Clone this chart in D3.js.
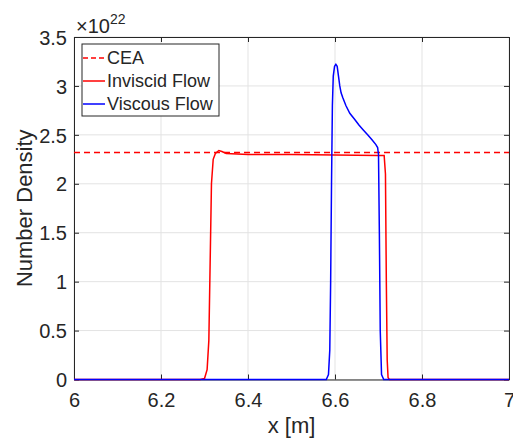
<!DOCTYPE html>
<html>
<head>
<meta charset="utf-8">
<script src="https://cdn.jsdelivr.net/npm/d3@7"></script>
<style>
  body { margin: 0; background: #fff; }
  text { font-family: "Liberation Sans", Arial, sans-serif; fill: #262626; }
</style>
</head>
<body>
<svg width="513" height="443"></svg>
<script>
"use strict";
// values in units of 1e22
const ceaLevel = 2.32;
const invX = [6.0, 6.29, 6.300, 6.306, 6.310, 6.313, 6.316, 6.320, 6.325, 6.333, 6.340, 6.350, 6.40, 6.50, 6.60, 6.70, 6.713, 6.716, 6.718, 6.720, 6.722, 6.725, 7.0];
const invY = [0, 0, 0.01, 0.1, 0.4, 1.2, 2.0, 2.25, 2.31, 2.34, 2.33, 2.31, 2.30, 2.30, 2.295, 2.29, 2.29, 2.1, 1.0, 0.2, 0.02, 0, 0];
const visX = [6.0, 6.55, 6.580, 6.585, 6.588, 6.590, 6.592, 6.594, 6.596, 6.599, 6.602, 6.605, 6.608, 6.611, 6.614, 6.618, 6.625, 6.634, 6.645, 6.655, 6.665, 6.675, 6.685, 6.694, 6.698, 6.700, 6.702, 6.704, 6.707, 6.712, 7.0];
const visY = [0, 0, 0, 0.05, 0.3, 1.0, 2.0, 2.8, 3.1, 3.2, 3.22, 3.2, 3.1, 3.0, 2.93, 2.88, 2.80, 2.72, 2.66, 2.60, 2.55, 2.50, 2.45, 2.40, 2.37, 2.30, 1.5, 0.5, 0.05, 0, 0];
const xTicks = [6, 6.2, 6.4, 6.6, 6.8, 7];
const yTicks = [0, 0.5, 1, 1.5, 2, 2.5, 3, 3.5];
const legendNames = ["CEA", "Inviscid Flow", "Viscous Flow"];

let svg = d3.select("svg"),
    pl = 74, pr = 509, pt = 37, pb = 379.5;

let x = d3.scaleLinear().domain([6, 7]).range([pl, pr]);
let y = d3.scaleLinear().domain([0, 3.5]).range([pb, pt]);

// grid
let grid = svg.append("g").attr("stroke", "#e3e3e3").attr("stroke-width", 1);
xTicks.forEach(t => grid.append("line").attr("x1", x(t)).attr("x2", x(t)).attr("y1", pt).attr("y2", pb));
yTicks.forEach(t => grid.append("line").attr("y1", y(t)).attr("y2", y(t)).attr("x1", pl).attr("x2", pr));

// axes (ticks point inward)
let fmt = d => d3.format("")(d);
svg.append("g").attr("transform", "translate(0," + pb + ")")
    .call(d3.axisBottom(x).tickValues(xTicks).tickSizeInner(-5).tickSizeOuter(0).tickPadding(13).tickFormat(fmt))
    .call(g => g.selectAll("text").attr("font-size", 20).attr("dy", "0.71em"));
svg.append("g").attr("transform", "translate(" + pl + ",0)")
    .call(d3.axisLeft(y).tickValues(yTicks).tickSizeInner(-5).tickSizeOuter(0).tickPadding(7).tickFormat(fmt))
    .call(g => g.selectAll("text").attr("font-size", 20).attr("dy", "0.36em"));
svg.append("g").attr("transform", "translate(0," + pt + ")")
    .call(d3.axisTop(x).tickValues(xTicks).tickSizeInner(-5).tickSizeOuter(0).tickFormat(""));
svg.append("g").attr("transform", "translate(" + pr + ",0)")
    .call(d3.axisRight(y).tickValues(yTicks).tickSizeInner(-5).tickSizeOuter(0).tickFormat(""));
svg.selectAll(".domain, .tick line").attr("stroke", "#262626");

// lines
let line = d3.line().x(d => x(d[0])).y(d => y(d[1]));
svg.append("line")
    .attr("x1", x(6)).attr("x2", x(7)).attr("y1", y(ceaLevel)).attr("y2", y(ceaLevel))
    .attr("stroke", "#ff0000").attr("stroke-width", 1.5).attr("stroke-dasharray", "6,4");
svg.append("path").datum(invX.map((v, i) => [v, invY[i]]))
    .attr("d", line).attr("fill", "none").attr("stroke", "#ff0000").attr("stroke-width", 1.5);
svg.append("path").datum(visX.map((v, i) => [v, visY[i]]))
    .attr("d", line).attr("fill", "none").attr("stroke", "#0000ff").attr("stroke-width", 1.5);

// exponent
let ex = svg.append("text").attr("x", 76).attr("y", 33).attr("font-size", 20);
ex.append("tspan").text("\u00d710");
ex.append("tspan").attr("font-size", 14).attr("dy", -9).text("22");

// axis labels
svg.append("text").attr("x", (pl + pr) / 2).attr("y", 433).attr("text-anchor", "middle")
    .attr("font-size", 22).text("x [m]");
svg.append("text").attr("transform", "translate(32," + ((pt + pb) / 2) + ") rotate(-90)")
    .attr("text-anchor", "middle").attr("font-size", 22).text("Number Density");

// legend
let lg = svg.append("g");
lg.append("rect").attr("x", 82).attr("y", 44).attr("width", 137).attr("height", 72)
    .attr("fill", "#fff").attr("stroke", "#262626").attr("stroke-width", 1);
let styles = [{c: "#ff0000", d: "5,3"}, {c: "#ff0000", d: null}, {c: "#0000ff", d: null}];
legendNames.forEach((n, i) => {
    let yy = 58 + i * 23;
    lg.append("line").attr("x1", 83).attr("x2", 105).attr("y1", yy).attr("y2", yy)
        .attr("stroke", styles[i].c).attr("stroke-width", 1.5).attr("stroke-dasharray", styles[i].d);
    lg.append("text").attr("x", 107).attr("y", yy).attr("dy", "0.36em").attr("font-size", 18).text(n);
});
</script>
</body>
</html>
